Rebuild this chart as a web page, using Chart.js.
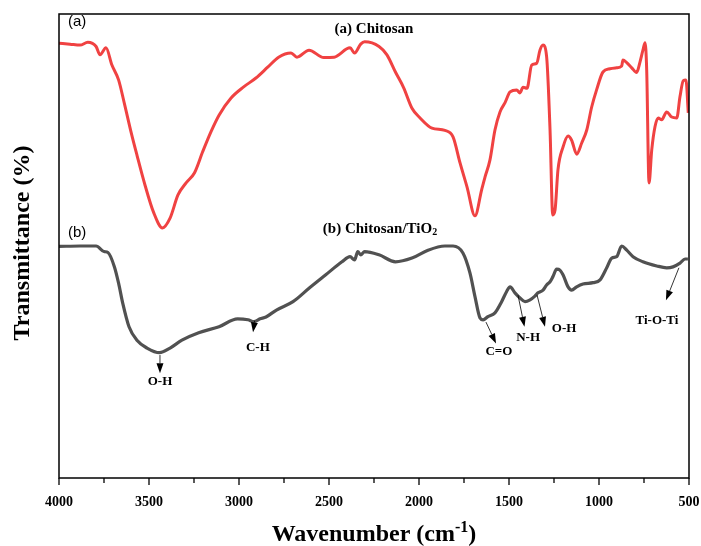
<!DOCTYPE html>
<html>
<head>
<meta charset="utf-8">
<script src="https://cdn.jsdelivr.net/npm/chart.js@4.4.1/dist/chart.umd.min.js"></script>
<style>
  body { margin: 0; background: #fff; }
  #ftir { display: block; }
</style>
</head>
<body>
<canvas id="ftir" width="701" height="546"></canvas>
<script>
// wavenumber (cm-1) and transmittance (arbitrary %)
const chitosanWn = [4000, 3939, 3883, 3840, 3794, 3772, 3739, 3706, 3669, 3635, 3600, 3567, 3522, 3475, 3425, 3383, 3339, 3294, 3247, 3202, 3156, 3111, 3044, 2974, 2906, 2839, 2780, 2711, 2678, 2611, 2529, 2472, 2383, 2358, 2324, 2302, 2222, 2178, 2131, 2085, 2039, 1994, 1928, 1856, 1811, 1772, 1733, 1689, 1652, 1633, 1606, 1578, 1550, 1522, 1494, 1457, 1439, 1422, 1400, 1374, 1346, 1328, 1311, 1291, 1272, 1257, 1244, 1228, 1200, 1172, 1152, 1124, 1096, 1068, 1041, 1013, 978, 939, 902, 874, 867, 846, 818, 791, 772, 756, 744, 735, 722, 707, 689, 671, 652, 624, 596, 568, 550, 532, 517, 504];
const chitosanT = [93.7, 93.5, 93.3, 93.9, 93.0, 91.2, 92.7, 89.0, 85.8, 80.4, 74.6, 69.6, 63.1, 57.3, 53.9, 56.0, 61.0, 63.6, 65.8, 70.3, 74.6, 78.2, 81.9, 84.3, 86.2, 88.6, 90.7, 91.6, 90.7, 92.2, 90.6, 90.7, 92.7, 91.6, 93.5, 94.0, 93.0, 91.2, 87.5, 84.1, 79.7, 77.6, 75.4, 74.9, 73.5, 67.9, 62.7, 56.5, 62.1, 64.9, 68.5, 75.0, 78.9, 80.9, 83.2, 83.6, 83.0, 84.2, 84.0, 89.0, 89.4, 92.2, 93.3, 90.8, 75.0, 56.7, 57.8, 66.4, 71.3, 73.7, 72.8, 69.8, 72.2, 75.0, 79.9, 83.7, 87.5, 88.2, 88.4, 88.8, 90.1, 89.5, 88.4, 87.4, 89.7, 92.2, 93.8, 87.9, 63.6, 70.7, 75.7, 77.6, 77.2, 78.9, 77.8, 77.6, 82.2, 85.6, 85.8, 78.7];

const compositeWn = [4000, 3883, 3794, 3750, 3728, 3692, 3669, 3646, 3611, 3567, 3511, 3441, 3383, 3317, 3224, 3111, 3008, 2950, 2917, 2883, 2850, 2792, 2700, 2611, 2518, 2428, 2383, 2358, 2340, 2324, 2302, 2222, 2131, 2039, 1950, 1856, 1811, 1756, 1717, 1689, 1661, 1644, 1617, 1578, 1541, 1513, 1494, 1467, 1439, 1411, 1383, 1356, 1339, 1311, 1291, 1272, 1256, 1235, 1217, 1200, 1172, 1152, 1124, 1089, 1033, 994, 957, 929, 902, 874, 846, 811, 756, 679, 624, 589, 550, 522, 506];
const compositeT = [49.9, 50.0, 50.0, 48.8, 48.6, 45.5, 42.0, 37.7, 32.6, 29.7, 28.0, 27.0, 28.0, 29.7, 31.3, 32.6, 34.3, 34.1, 33.7, 34.3, 34.7, 36.2, 38.0, 40.9, 43.8, 46.6, 47.7, 47.0, 48.8, 48.1, 48.8, 48.1, 46.6, 47.4, 49.1, 50.0, 50.0, 48.5, 44.2, 39.1, 34.5, 34.1, 34.8, 35.6, 38.0, 40.2, 41.2, 39.9, 38.8, 38.0, 38.4, 39.2, 39.9, 40.5, 41.6, 42.3, 43.4, 45.0, 44.8, 43.8, 41.2, 40.5, 41.2, 41.8, 42.1, 42.7, 45.3, 47.4, 47.7, 50.0, 49.1, 47.7, 46.6, 45.7, 45.3, 45.5, 46.3, 47.2, 47.2];

const xTicks = [4000, 3500, 3000, 2500, 2000, 1500, 1000, 500];

// band assignments: text, arrow tail/head and label spot in (wavenumber, T)
const bandLabels = [
    { text: 'O-H', from: [3439, 26.5], to: [3439, 22.6], at: [3439, 20.8] },
    { text: 'C-H', from: [2913, 33.9], to: [2922, 31.4], at: [2895, 28.2] },
    { text: 'C=O', from: [1628, 33.6], to: [1572, 29.0], at: [1556, 27.2] },
    { text: 'N-H', from: [1450, 39.4], to: [1414, 32.6], at: [1394, 30.3] },
    { text: 'O-H', from: [1344, 39.4], to: [1300, 32.6], at: [1194, 32.1] },
    { text: 'Ti-O-Ti', from: [556, 45.3], to: [628, 38.3], at: [678, 34.0] }
];

const SERIF = '"Liberation Serif", "Times New Roman", serif';

function arrow(ctx, x1, y1, x2, y2) {
    const ang = Math.atan2(y2 - y1, x2 - x1);
    const len = 10, half = 3.5;
    const bx = x2 - len * Math.cos(ang), by = y2 - len * Math.sin(ang);
    ctx.beginPath();
    ctx.moveTo(x1, y1);
    ctx.lineTo(bx, by);
    ctx.lineWidth = 0.8;
    ctx.stroke();
    ctx.beginPath();
    ctx.moveTo(x2, y2);
    ctx.lineTo(bx + half * Math.sin(ang), by - half * Math.cos(ang));
    ctx.lineTo(bx - half * Math.sin(ang), by + half * Math.cos(ang));
    ctx.closePath();
    ctx.fill();
}

// text with a raised or lowered small part, centred on cx
function mixedText(ctx, parts, cx, cy, size) {
    let total = 0;
    parts.forEach(p => {
        ctx.font = 'bold ' + (p.small ? Math.round(size * 0.65) : size) + 'px ' + SERIF;
        p.w = ctx.measureText(p.t).width;
        total += p.w;
    });
    let x = cx - total / 2;
    ctx.textAlign = 'left';
    ctx.textBaseline = 'middle';
    parts.forEach(p => {
        ctx.font = 'bold ' + (p.small ? Math.round(size * 0.65) : size) + 'px ' + SERIF;
        ctx.fillText(p.t, x, cy + (p.shift || 0) * size);
        x += p.w;
    });
}

const decorations = {
    id: 'decorations',
    afterDraw(chart) {
        const { ctx, chartArea: a, scales: { x, y } } = chart;
        ctx.save();
        ctx.strokeStyle = '#000';
        ctx.fillStyle = '#000';

        // frame
        ctx.lineWidth = 1.5;
        ctx.strokeRect(a.left, a.top, a.right - a.left, a.bottom - a.top);

        // major and minor ticks
        ctx.lineWidth = 1.3;
        for (let v = 500; v <= 4000; v += 250) {
            const px = x.getPixelForValue(v);
            const len = v % 500 === 0 ? 7 : 5;
            ctx.beginPath();
            ctx.moveTo(px, a.bottom);
            ctx.lineTo(px, a.bottom + len);
            ctx.stroke();
        }

        // axis titles
        mixedText(ctx, [{ t: 'Wavenumber (cm' }, { t: '-1', small: true, shift: -0.3 }, { t: ')' }], (a.left + a.right) / 2, 535, 24);
        ctx.save();
        ctx.translate(23, 243);
        ctx.rotate(-Math.PI / 2);
        mixedText(ctx, [{ t: 'Transmittance (%)' }], 0, 0, 24);
        ctx.restore();

        // panel letters and curve names
        ctx.font = '15px "Liberation Sans", Arial, sans-serif';
        ctx.textAlign = 'left';
        ctx.textBaseline = 'middle';
        ctx.fillText('(a)', 68, 22);
        ctx.fillText('(b)', 68, 233);
        mixedText(ctx, [{ t: '(a) Chitosan' }], 374, 29, 15);
        mixedText(ctx, [{ t: '(b) Chitosan/TiO' }, { t: '2', small: true, shift: 0.25 }], 380, 229, 15);

        // band assignments
        bandLabels.forEach(b => {
            arrow(ctx, x.getPixelForValue(b.from[0]), y.getPixelForValue(b.from[1]),
                x.getPixelForValue(b.to[0]), y.getPixelForValue(b.to[1]));
            mixedText(ctx, [{ t: b.text }], x.getPixelForValue(b.at[0]), y.getPixelForValue(b.at[1]), 13);
        });
        ctx.restore();
    }
};

new Chart(document.getElementById('ftir').getContext('2d'), {
    type: 'line',
    data: {
        datasets: [
            {
                label: '(a) Chitosan',
                data: chitosanWn.map((w, i) => ({ x: w, y: chitosanT[i] })),
                borderColor: '#f04242',
                borderWidth: 3,
                pointRadius: 0,
                cubicInterpolationMode: 'monotone'
            },
            {
                label: '(b) Chitosan/TiO2',
                data: compositeWn.map((w, i) => ({ x: w, y: compositeT[i] })),
                borderColor: '#515151',
                borderWidth: 3.2,
                pointRadius: 0,
                cubicInterpolationMode: 'monotone'
            }
        ]
    },
    options: {
        responsive: false,
        animation: false,
        devicePixelRatio: 1,
        layout: { padding: { top: 14, right: 12, left: 0, bottom: 0 } },
        plugins: { legend: { display: false }, tooltip: { enabled: false } },
        scales: {
            x: {
                type: 'linear',
                reverse: true,
                min: 500,
                max: 4000,
                afterBuildTicks: s => { s.ticks = xTicks.map(v => ({ value: v })); },
                afterFit: s => { s.height = 68; s.paddingLeft = 0; s.paddingRight = 0; },
                grid: { display: false, drawTicks: false },
                border: { display: false },
                ticks: {
                    color: '#000',
                    padding: 16,
                    maxRotation: 0,
                    autoSkip: false,
                    callback: v => String(v),
                    font: { family: SERIF, size: 14, weight: 'bold' }
                }
            },
            y: {
                min: 0,
                max: 100,
                afterFit: s => { s.width = 59; s.paddingTop = 0; s.paddingBottom = 0; },
                grid: { display: false, drawTicks: false },
                border: { display: false },
                ticks: { display: false }
            }
        }
    },
    plugins: [decorations]
});
</script>
</body>
</html>
